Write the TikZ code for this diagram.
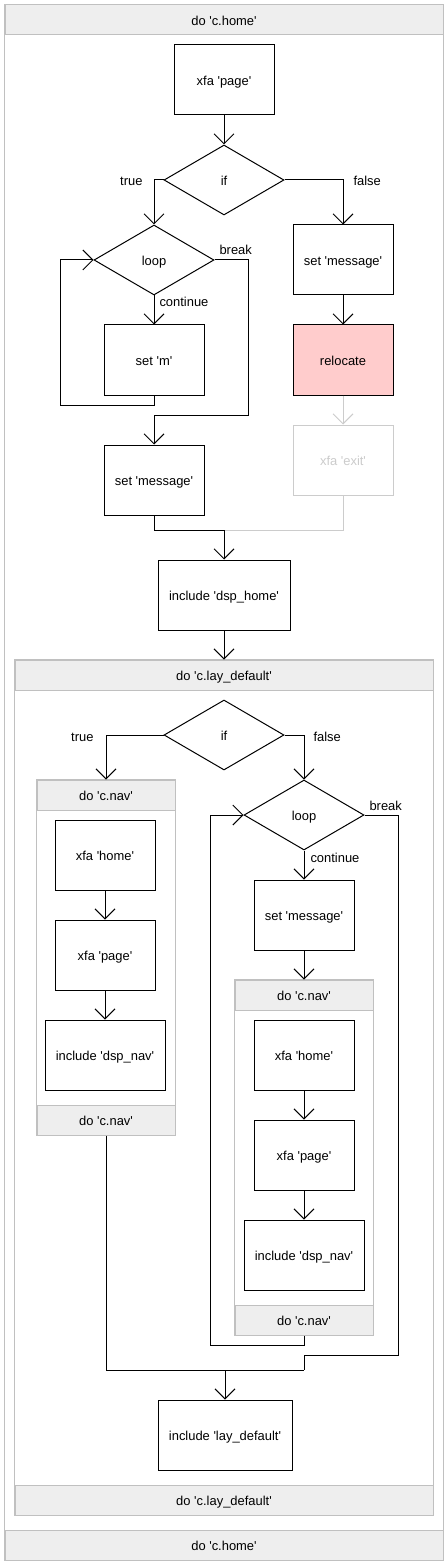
\documentclass[tikz,border=0pt]{standalone}
\usepackage{fontspec}
\setmainfont{Liberation Sans}
\usetikzlibrary{shapes.geometric, arrows.meta, positioning, calc}
\definecolor{framegray}{RGB}{192,192,192}
\definecolor{headgray}{RGB}{238,238,238}
\definecolor{relocpink}{RGB}{255,204,204}
\definecolor{ghostgray}{RGB}{204,204,204}
\newcommand{\sq}[1]{\textquotesingle#1\textquotesingle}

\begin{document}
\begin{tikzpicture}[x=0.75pt, y=-0.75pt, line width=0.75pt,
    every node/.style={font=\fontsize{9.7}{11}\selectfont, text height=8pt, text depth=0pt},
    act/.style={draw, rectangle, inner sep=0pt, minimum width=75pt, minimum height=52.5pt},
    cond/.style={draw, diamond, inner sep=0pt, minimum width=90pt, minimum height=52.5pt},
    blk/.style={draw=framegray, fill=headgray, rectangle, inner sep=0pt, minimum height=22.5pt},
    lbl/.style={inner sep=0pt},
    flow/.style={-{Straight Barb[length=7.5pt, width=15pt]}},
    ghost/.style={draw=ghostgray, text=ghostgray}]
    \useasboundingbox (0,0) rectangle (448,1565);
    \fill[white] (0,0) rectangle (448,1565);

    % Cadre do 'c.home'
    \node[blk, minimum width=328.5pt] (hometop) at (224,20) {do \sq{c.home}};
    \node[blk, minimum width=328.5pt] (homebot) at (224,1545) {do \sq{c.home}};
    \draw[framegray] (hometop.north west) rectangle (homebot.south east);

    % === Partie haute ===
    \node[act] (page1) at (224,80) {xfa \sq{page}};
    \node[cond] (if1) at (224,180) {if};
    \node[cond] (loop1) at (154,260) {loop};
    \node[act] (setm) at (154,360) {set \sq{m}};
    \node[act] (msg1) at (343,260) {set \sq{message}};
    \node[act, fill=relocpink] (reloc) at (343,360) {relocate};
    \node[act, ghost] (exit1) at (343,460) {xfa \sq{exit}};
    \node[act] (msg2) at (154,480) {set \sq{message}};
    \node[act, minimum width=99pt] (dsphome) at (224,595) {include \sq{dsp\_home}};

    % Etiquettes
    \node[lbl, anchor=base east] (true1) at (143,186) {true};
    \node[lbl, anchor=base west] (false1) at (353,186) {false};
    \node[lbl, anchor=base west] (break1) at (219,255) {break};
    \node[lbl, anchor=base west] (cont1) at (159,307) {continue};

    % Points de passage
    \coordinate (back1) at (60,405);
    \coordinate (brk1) at (248,415);
    \coordinate (join1) at (224,530);

    % Cadre do 'c.lay_default'
    \node[blk, minimum width=313.5pt] (laytop) at (224,675) {do \sq{c.lay\_default}};
    \node[blk, minimum width=313.5pt] (laybot) at (224,1500) {do \sq{c.lay\_default}};
    \draw[framegray] (laytop.north west) rectangle (laybot.south east);

    % Flèches partie haute
    \draw[flow] (page1.south) -- (if1.north);
    \draw[flow] (if1.west) -| (loop1.north);
    \draw[flow] (if1.east) -| (msg1.north);
    \draw[flow] (loop1.south) -- (setm.north);
    \draw[flow] (setm.south) |- (back1) |- (loop1.west);
    \draw[flow] (loop1.east) -| (brk1) -| (msg2.north);
    \draw[flow] (msg1.south) -- (reloc.north);
    \draw[flow, ghostgray] (reloc.south) -- (exit1.north);
    \draw[ghostgray] (exit1.south) |- (join1);
    \draw[flow] (msg2.south) |- (join1) -- (dsphome.north);
    \draw[flow] (dsphome.south) -- (laytop.north);

    % === Partie basse ===
    \node[cond] (if2) at (224,735) {if};
    \node[lbl, anchor=base east] (true2) at (94,741) {true};
    \node[lbl, anchor=base west] (false2) at (313,741) {false};

    % Colonne gauche : do 'c.nav'
    \node[blk, minimum width=103.5pt] (navLtop) at (106,795) {do \sq{c.nav}};
    \node[blk, minimum width=103.5pt] (navLbot) at (106,1120) {do \sq{c.nav}};
    \draw[framegray] (navLtop.north west) rectangle (navLbot.south east);
    \node[act] (homeL) at (105,855) {xfa \sq{home}};
    \node[act] (pageL) at (105,955) {xfa \sq{page}};
    \node[act, minimum width=90pt] (dspnavL) at (105,1055) {include \sq{dsp\_nav}};

    % Colonne droite : boucle
    \node[cond] (loop2) at (304,815) {loop};
    \node[lbl, anchor=base west] (break2) at (369,810) {break};
    \node[lbl, anchor=base west] (cont2) at (310,862) {continue};
    \node[act] (msg3) at (304,915) {set \sq{message}};
    \node[blk, minimum width=103.5pt] (navRtop) at (304,995) {do \sq{c.nav}};
    \node[blk, minimum width=103.5pt] (navRbot) at (304,1320) {do \sq{c.nav}};
    \draw[framegray] (navRtop.north west) rectangle (navRbot.south east);
    \node[act] (homeR) at (304,1055) {xfa \sq{home}};
    \node[act] (pageR) at (304,1155) {xfa \sq{page}};
    \node[act, minimum width=90pt] (dspnavR) at (304,1255) {include \sq{dsp\_nav}};

    \node[act, minimum width=100.5pt] (laydef) at (225,1435) {include \sq{lay\_default}};

    % Points de passage
    \coordinate (back2) at (210,1345);
    \coordinate (brk2) at (398,1355);
    \coordinate (join2) at (304,1370);

    % Flèches partie basse
    \draw[flow] (if2.west) -| (navLtop.north);
    \draw[flow] (if2.east) -| (loop2.north);
    \draw[flow] (homeL.south) -- (pageL.north);
    \draw[flow] (pageL.south) -- (dspnavL.north);
    \draw[flow] (loop2.south) -- (msg3.north);
    \draw[flow] (msg3.south) -- (navRtop.north);
    \draw[flow] (homeR.south) -- (pageR.north);
    \draw[flow] (pageR.south) -- (dspnavR.north);
    \draw[flow] (navRbot.south) |- (back2) |- (loop2.west);
    \draw (loop2.east) -| (brk2) -| (join2);
    \draw (navLbot.south) |- (join2);
    \draw[flow] (laydef.north |- join2) -- (laydef.north);
\end{tikzpicture}
\end{document}
